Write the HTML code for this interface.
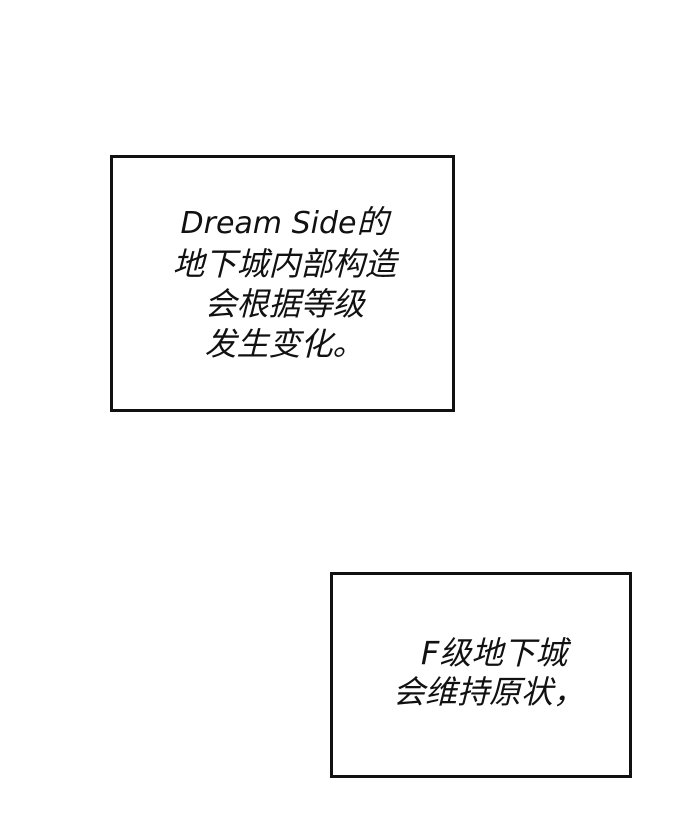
<!DOCTYPE html>
<html><head><meta charset="utf-8"><style>
html,body{margin:0;padding:0;background:#fff;}
body{width:690px;height:828px;position:relative;overflow:hidden;}
.box{position:absolute;border:3px solid #111;box-sizing:border-box;background:#fff;}
.t{position:absolute;text-align:center;font-family:"DejaVu Sans","Noto Sans CJK SC",sans-serif;font-style:italic;color:#111;white-space:nowrap;}
</style></head><body>
<div class="box" style="left:110px;top:155px;width:345px;height:257px;"></div>
<div class="t" style="left:112px;width:345px;top:202px;font-size:32px;line-height:40px;"><span style="font-size:30px">Dream Side</span>的<br>地下城内部构造<br>会根据等级<br>发生变化。</div>
<div class="box" style="left:330px;top:572px;width:302px;height:206px;"></div>
<div class="t" style="left:338px;width:302px;top:634px;font-size:32px;line-height:39px;">&nbsp;F级地下城<br>会维持原状，</div>
</body></html>
